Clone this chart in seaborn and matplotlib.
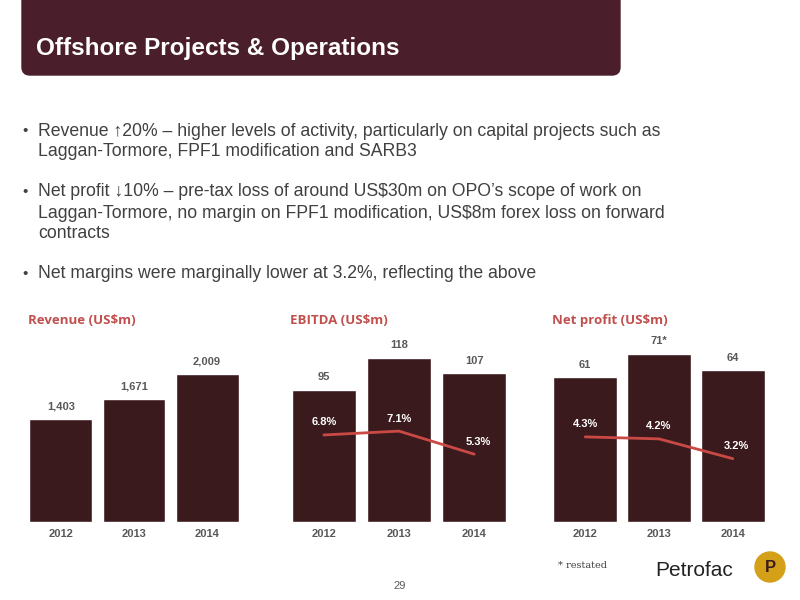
import matplotlib
matplotlib.use("Agg")
import matplotlib.pyplot as plt
import seaborn as sns
import pandas as pd
from matplotlib.patches import Rectangle, Circle, FancyBboxPatch

years = ["2012", "2013", "2014"]
revenue = [1403, 1671, 2009]
revenue_lbl = ["1,403", "1,671", "2,009"]
ebitda = [95, 118, 107]
ebitda_margin = [6.8, 7.1, 5.3]
profit = [61, 71, 64]
profit_lbl = ["61", "71*", "64"]
profit_margin = [4.3, 4.2, 3.2]

BAR = "#3b1a1d"
LINE = "#c94a44"
TITLE = "#c0504d"
GREY = "#595959"

sns.set_theme(style="white")
plt.rcParams['font.family'] = ['Liberation Sans', 'DejaVu Sans']
fig = plt.figure(figsize=(8, 6), dpi=100)
W, H = 800, 600

def px(x0, y0, x1, y1):
    return [x0 / W, 1 - y1 / H, (x1 - x0) / W, (y1 - y0) / H]

hdr = fig.add_axes(px(0, 0, 800, 600), zorder=-1)
hdr.set_xlim(0, W); hdr.set_ylim(H, 0); hdr.axis("off")
hdr.add_patch(FancyBboxPatch((22, -30), 598, 105, boxstyle="round,pad=0,rounding_size=8", color="#4a1e2a"))
hdr.text(36, 48, "Offshore Projects & Operations", color="white", fontsize=17.5, fontweight="bold", va="center")

bullets = [
    (131, "Revenue \u219120% \u2013 higher levels of activity, particularly on capital projects such as"),
    (152, "Laggan-Tormore, FPF1 modification and SARB3"),
    (192, "Net profit \u219310% \u2013 pre-tax loss of around US$30m on OPO\u2019s scope of work on"),
    (213, "Laggan-Tormore, no margin on FPF1 modification, US$8m forex loss on forward"),
    (234, "contracts"),
    (274, "Net margins were marginally lower at 3.2%, reflecting the above"),
]
for y, t in bullets:
    hdr.text(38, y, t, fontsize=12.7, color="#404040", va="center")
for y in (131, 192, 274):
    hdr.text(22, y, "\u2022", fontsize=11, color="#404040", va="center")

hdr.text(400, 586, "29", fontsize=8, color=GREY, ha="center", va="center")
hdr.text(558, 565, "* restated", fontsize=7, color="#404040", va="center", family="DejaVu Serif")
hdr.text(655, 570, "Petrofac", fontsize=15, color="#222222", va="center")
hdr.add_patch(Circle((770, 567), 15, color="#d4a017"))
hdr.text(770, 568, "P", fontsize=12, color="#3b1a1d", fontweight="bold", ha="center", va="center")

def chart(box, vals, labels, ymax, title, margin=None, mmax=None):
    ax = fig.add_axes(px(*box))
    df = pd.DataFrame({"year": years, "v": vals})
    sns.barplot(data=df, x="year", y="v", color=BAR, width=0.86, ax=ax, saturation=1)
    ax.set_xlim(-0.45, 2.45); ax.set_ylim(0, ymax)
    ax.axis("off")
    for i, (v, l) in enumerate(zip(vals, labels)):
        ax.text(i, v + ymax * 0.05, l, ha="center", fontsize=8, fontweight="bold", color=GREY)
        ax.text(i, -ymax * 0.06, years[i], ha="center", va="center", fontsize=8, fontweight="bold", color=GREY)
    ax.text(-0.45, ymax * 1.05, title, fontsize=9.5, fontweight="bold", color=TITLE, va="center", family="Open Sans")
    if margin:
        ax2 = ax.twinx()
        dm = pd.DataFrame({"x": [0, 1, 2], "m": margin})
        sns.lineplot(data=dm, x="x", y="m", color=LINE, lw=2, ax=ax2)
        ax2.set_ylim(0, mmax); ax2.set_xlim(-0.45, 2.45); ax2.axis("off")
        for i, m in enumerate(margin):
            ax2.text(i + (0.05 if i == 2 else 0), m + mmax * 0.05, f"{m}%", ha="center", fontsize=8, fontweight="bold", color="white")

chart((28, 330, 240, 522), revenue, revenue_lbl, 2606, "Revenue (US$m)")
chart((290, 330, 508, 522), ebitda, [str(v) for v in ebitda], 138, "EBITDA (US$m)", ebitda_margin, 15)
chart((552, 330, 766, 522), profit, profit_lbl, 81, "Net profit (US$m)", profit_margin, 9.7)

fig.savefig("out.png", dpi=100)
